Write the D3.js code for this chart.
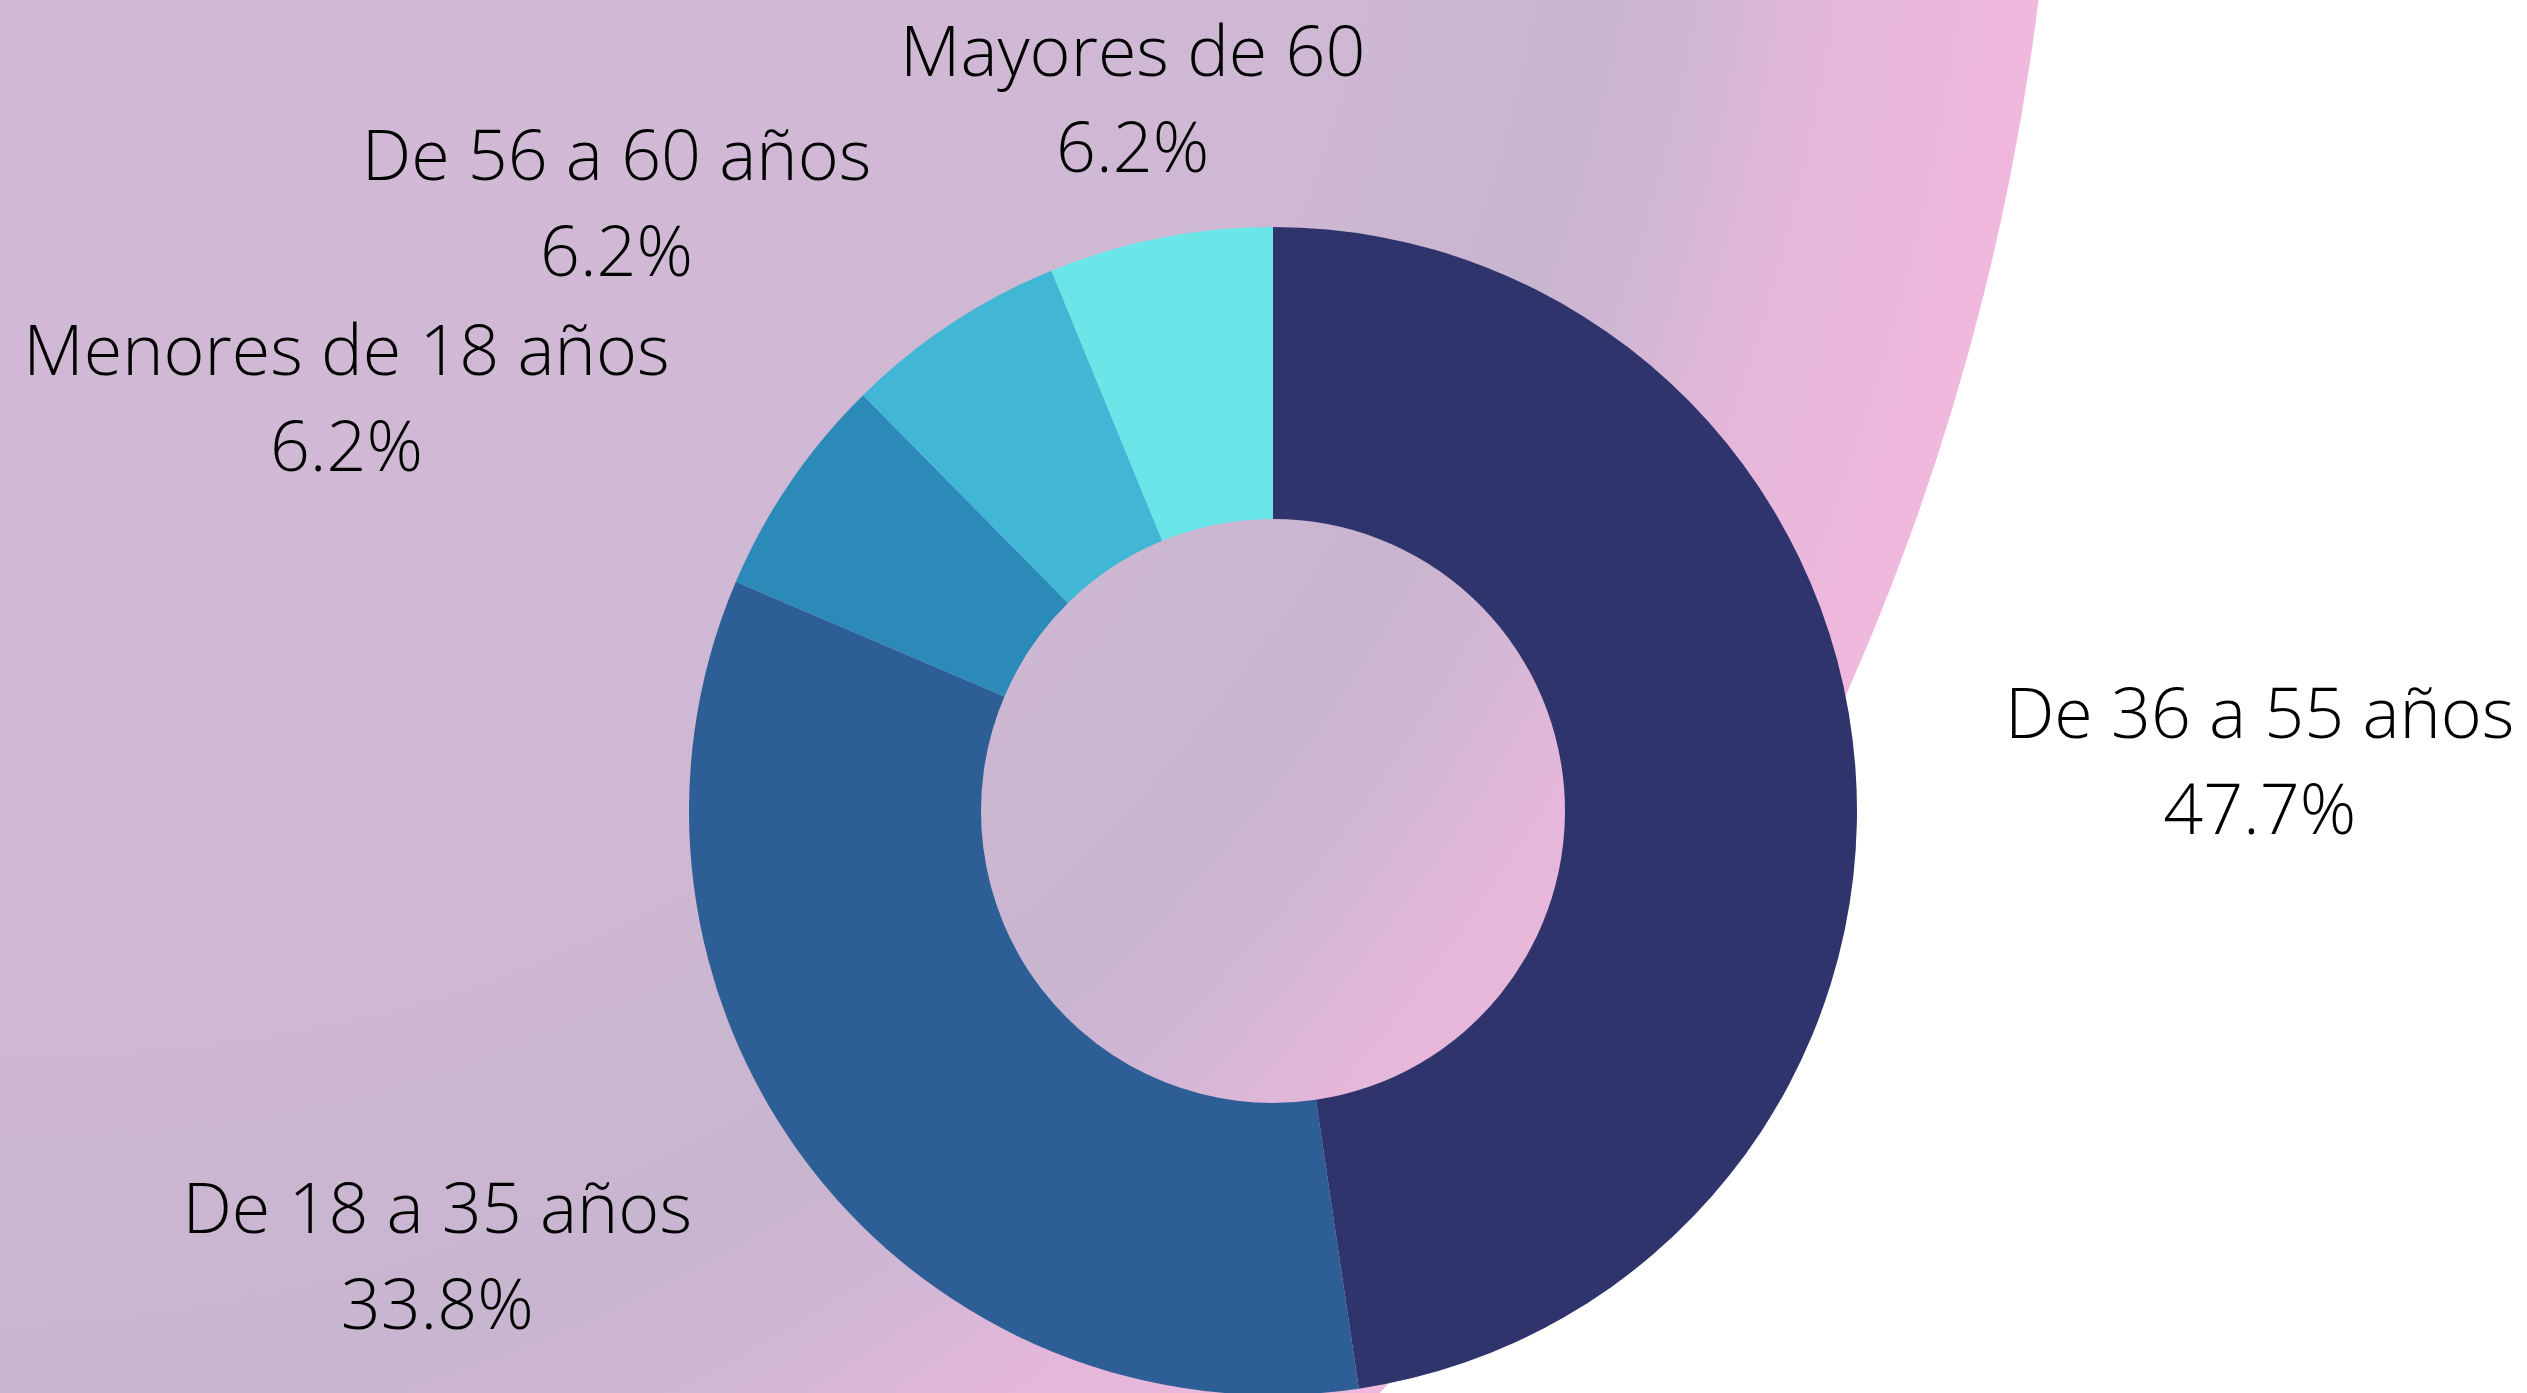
<!DOCTYPE html>
<html>
<head>
<meta charset="utf-8">
<script src="https://cdn.jsdelivr.net/npm/d3@7"></script>
<style>
    html, body { margin: 0; padding: 0; background: #ffffff; overflow: hidden; }
    #chart text { font-family: "Open Sans", sans-serif; font-weight: 300; fill: #000; }
</style>
</head>
<body>
<svg id="chart"></svg>
<script>
// age groups, clockwise from 12 o'clock
const categories = ['De 36 a 55 años', 'De 18 a 35 años', 'Menores de 18 años', 'De 56 a 60 años', 'Mayores de 60'];
const shares = [47.7, 33.8, 6.2, 6.2, 6.2];

const sliceColors = ['#30346c', '#2d5e96', '#2c8ab8', '#42b6d5', '#6ae5e8'];

// svg dims
const width = 2527, height = 1393;
const cx = 1273, cy = 811;
const outerR = 584, innerR = 292;
const labelR = 850;
const fontSize = 70, lineGap = 96;

// label nudges away from the plain label arc (collision layout)
const labelNudge = [[139, -10], [-163, -97], [-224, 42], [-188, 78], [24, 99]];

const svg = d3.select('#chart')
    .attr('width', width)
    .attr('height', height);

// background blob with its soft lavender -> pink gradient
const defs = svg.append('defs');
const grad = defs.append('radialGradient')
    .attr('id', 'bg')
    .attr('gradientUnits', 'userSpaceOnUse')
    .attr('cx', -400).attr('cy', -301).attr('r', 2457)
    .attr('fx', 600).attr('fy', -301);
[[0, '#d2bad6'], [0.5, '#cfb8d4'], [0.7, '#c8b5cf'], [0.78, '#d2b6d5'], [0.86, '#e4b7da'], [1, '#efb8dc']]
    .forEach(function(s) {
        grad.append('stop').attr('offset', s[0]).attr('stop-color', s[1]);
    });

svg.append('circle')
    .attr('cx', -400)
    .attr('cy', -301)
    .attr('r', 2457)
    .attr('fill', 'url(#bg)');

// donut
const pie = d3.pie().sort(null).value(d => d);
const arcs = pie(shares);

const arc = d3.arc().innerRadius(innerR).outerRadius(outerR);
const labelArc = d3.arc().innerRadius(labelR).outerRadius(labelR);

const g = svg.append('g').attr('transform', `translate(${cx},${cy})`);

g.selectAll('.slice')
    .data(arcs)
    .join('path')
    .classed('slice', true)
    .attr('d', arc)
    .attr('fill', (d, i) => sliceColors[i]);

// labels: name on the first line, share underneath
const fmt = d3.format('.1f');
const labels = g.selectAll('.label')
    .data(arcs)
    .join('text')
    .classed('label', true)
    .attr('text-anchor', 'middle')
    .style('font-size', fontSize + 'px')
    .attr('transform', function(d, i) {
        const c = labelArc.centroid(d);
        return `translate(${c[0] + labelNudge[i][0]},${c[1] + labelNudge[i][1]})`;
    });

labels.append('tspan')
    .attr('x', 0)
    .attr('y', 0)
    .text((d, i) => categories[i]);

labels.append('tspan')
    .attr('x', 0)
    .attr('y', lineGap)
    .text(d => fmt(d.data) + '%');
</script>
</body>
</html>
